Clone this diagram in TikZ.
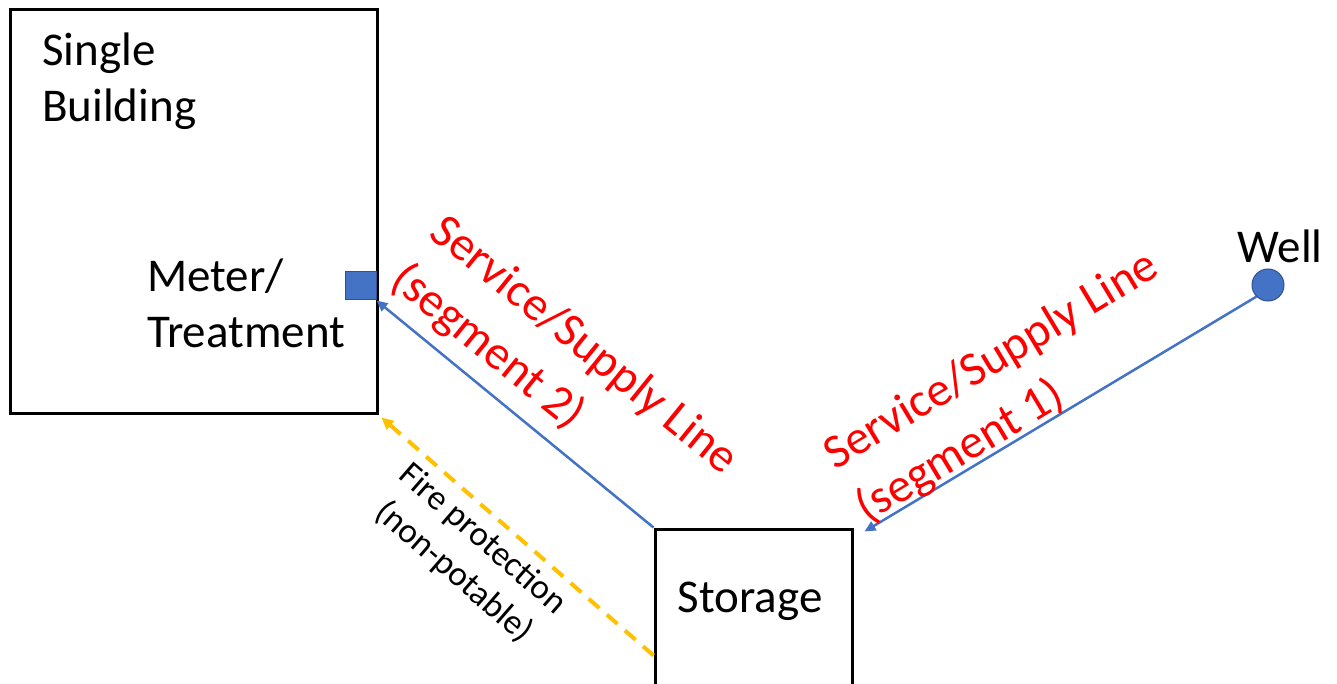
\documentclass[tikz,border=0pt]{standalone}
\usepackage{fontspec}
\setmainfont{Carlito}
\usetikzlibrary{arrows.meta,calc}
\definecolor{pblue}{HTML}{4472C4}
\definecolor{pdblue}{HTML}{2F528F}
\definecolor{pyellow}{HTML}{FFC000}
\definecolor{pred}{HTML}{FF0000}
\tikzset{
  box/.style={draw=black,line width=3pt,rectangle,inner sep=0pt},
  lbl/.style={font=\fontsize{47}{56}\selectfont,inner sep=0pt},
  redlbl/.style={font=\fontsize{48}{62}\selectfont,text=pred,inner sep=0pt,align=left},
  firelbl/.style={font=\fontsize{35}{44}\selectfont,inner sep=0pt,align=center},
  pipe/.style={draw=pblue,line width=2.5pt,-{Triangle[length=11pt,width=10pt]}},
  fire/.style={draw=pyellow,line width=4pt,dash pattern=on 14pt off 10pt,-{Triangle[length=12pt,width=11pt]}}
}
\begin{document}
\begin{tikzpicture}[x=1pt,y=-1pt]
\useasboundingbox (0,0) rectangle (1337,684);
\fill[white] (0,0) rectangle (1337,684);
% building
\node[box,minimum width=367pt,minimum height=403pt] (building) at (193.5,211.5) {};
\node[lbl,anchor=base west,align=left] (bldtxt) at (42,122) {Single\\Building};
\node[lbl,anchor=base west,align=left] (metertxt) at (147,347) {Meter/\\Treatment};
% meter
\node[rectangle,fill=pblue,draw=pdblue,line width=1pt,minimum width=31pt,minimum height=28pt,inner sep=0pt] (meter) at (360.5,286) {};
% storage
\node[box,minimum width=197pt,minimum height=171pt] (storage) at (753.5,614.5) {};
\node[lbl,anchor=base] (stortxt) at (750,612) {Storage};
% well
\node[circle,fill=pblue,draw=pdblue,line width=1pt,minimum size=32pt,inner sep=0pt] (well) at (1268,285) {};
\node[lbl,anchor=base] (welltxt) at (1280,263) {Well};
% connectors
\coordinate (seg1end) at ($(storage.north east)+(11,4)$);
\draw[pipe] (well.225) -- (seg1end);
\draw[pipe] (storage.north west) -- (meter.south east);
\coordinate (firestart) at ($(storage.north west)+(0,128)$);
\coordinate (fireend) at ($(building.south east)+(3,3)$);
\draw[fire] (firestart) -- (fireend);
% labels
\node[redlbl,rotate=-39] (seg2lbl) at (564,370) {Service/Supply Line\\(segment 2)};
\node[redlbl,rotate=31] (seg1lbl) at (1008,388) {Service/Supply Line\\(segment 1)};
\node[firelbl,rotate=-41] (firelbl) at (468,556) {Fire protection\\(non-potable)};
\end{tikzpicture}
\end{document}
